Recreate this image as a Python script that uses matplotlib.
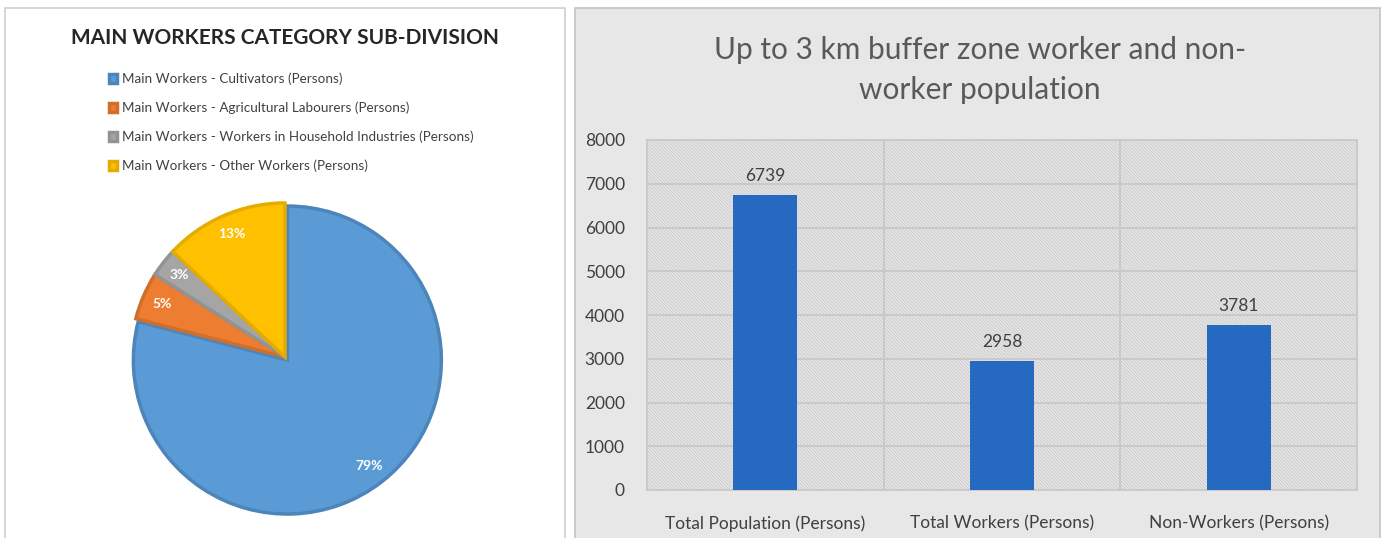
import matplotlib.pyplot as plt
from matplotlib.patches import Rectangle

plt.rcParams['font.family'] = ['Lato', 'DejaVu Sans']
plt.rcParams['hatch.linewidth'] = 0.7

# pie data (percent shares)
pie_labels = ['Main Workers - Cultivators (Persons)',
              'Main Workers - Agricultural Labourers (Persons)',
              'Main Workers - Workers in Household Industries (Persons)',
              'Main Workers - Other Workers (Persons)']
pie_values = [79, 5, 3, 13]
pie_colors = ['#5b9bd5', '#ed7d31', '#a5a5a5', '#ffc000']
pie_edges = ['#4d85bb', '#d06e2c', '#939393', '#e3ac00']

# bar data
bar_cats = ['Total Population (Persons)', 'Total Workers (Persons)', 'Non-Workers (Persons)']
bar_values = [6739, 2958, 3781]
y_ticks = [0, 1000, 2000, 3000, 4000, 5000, 6000, 7000, 8000]

W, H = 1386, 538
fig = plt.figure(figsize=(W / 100, H / 100), dpi=100)
fig.patch.set_facecolor('white')

def fx(x):
    return x / W

def fy(y):
    return 1 - y / H

# panel backgrounds
fig.patches.append(Rectangle((fx(5), fy(545)), fx(560), 537 / H, transform=fig.transFigure,
                             facecolor='white', edgecolor='#d0d0d0', lw=1.2, zorder=-5))
fig.patches.append(Rectangle((fx(575), fy(545)), fx(805), 537 / H, transform=fig.transFigure,
                             facecolor='#e7e7e7', edgecolor='#c4c4c4', lw=1.2, zorder=-5))

# ---- pie ----
cx, cy, r = 285, 357, 154
ax1 = fig.add_axes([fx(cx - r), fy(cy + r), fx(2 * r), 2 * r / H])
wedges, texts, autotexts = ax1.pie(pie_values, colors=pie_colors, startangle=90, counterclock=False,
                                   explode=[0.025, 0, 0, 0], autopct='%d%%', pctdistance=0.87,
                                   wedgeprops=dict(linewidth=2.5))
for w, ec in zip(wedges, pie_edges):
    w.set_edgecolor(ec)
for t in autotexts:
    t.set_color('white')
    t.set_fontweight('bold')
    t.set_fontsize(10)
ax1.set_xlim(-1.0, 1.0)
ax1.set_ylim(-1.0, 1.0)
ax1.set_aspect('equal')
ax1.axis('off')

fig.text(fx(285), fy(38), 'MAIN WORKERS CATEGORY SUB-DIVISION', ha='center', va='center',
         fontsize=15, fontweight='bold', color='#262626')

leg = fig.legend(wedges, pie_labels, loc='upper left', bbox_to_anchor=(fx(102), fy(66)),
                 frameon=False, fontsize=9.7, handlelength=0.6, handleheight=0.6,
                 handletextpad=0.35, labelspacing=1.22, borderpad=0)
for t in leg.get_texts():
    t.set_color('#404040')

# ---- bars ----
x0, x1, y0, y1 = 647, 1357, 140, 490
ax2 = fig.add_axes([fx(x0), fy(y1), fx(x1 - x0), (y1 - y0) / H])
ax2.set_facecolor('#e2e2e2')
ax2.add_patch(Rectangle((0, 0), 1, 1, transform=ax2.transAxes, facecolor='#e6e6e6',
                        edgecolor='#cdcdcd', lw=0, hatch='\\\\\\\\\\\\\\\\\\\\', zorder=0))
xs = range(len(bar_cats))
bars = ax2.bar(xs, bar_values, width=0.27, color='#2569c1', zorder=3)
for b, v in zip(bars, bar_values):
    ax2.text(b.get_x() + b.get_width() / 2, v + 250, str(v), ha='center', va='bottom',
             fontsize=12.5, color='#404040')
ax2.set_xlim(-0.5, 2.5)
ax2.set_ylim(0, 8000)
ax2.set_yticks(y_ticks)
ax2.set_xticks(list(xs))
ax2.set_xticklabels(bar_cats)
ax2.tick_params(axis='both', length=0, labelsize=12.5, labelcolor='#404040')
ax2.tick_params(axis='x', pad=18)
ax2.tick_params(axis='y', pad=16)
for yv in y_ticks[1:]:
    ax2.axhline(yv, color='#c8c8c8', lw=1.3, zorder=1)
for xv in [0.5, 1.5]:
    ax2.axvline(xv, color='#c8c8c8', lw=1.3, zorder=1)
for s in ax2.spines.values():
    s.set_color('#c8c8c8')
    s.set_linewidth(1.3)

fig.text(fx(980), fy(70), 'Up to 3 km buffer zone worker and non-\nworker population', ha='center',
         va='center', fontsize=21.5, color='#595959', linespacing=1.55)

fig.savefig('out.png', dpi=100)
